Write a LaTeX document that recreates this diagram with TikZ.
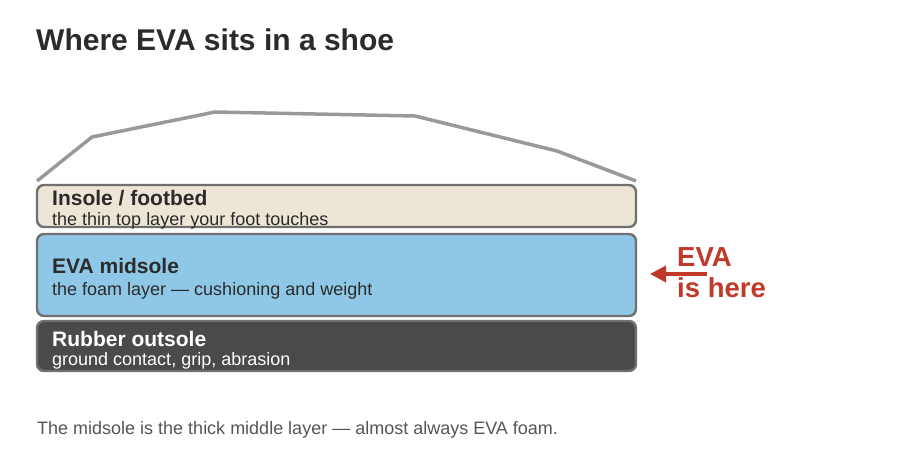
\documentclass[tikz,border=0pt]{standalone}
\usepackage{fontspec}
\setmainfont{Liberation Sans}
\definecolor{inktext}{RGB}{43,43,43}
\definecolor{edgegray}{RGB}{112,112,112}
\definecolor{uppergray}{RGB}{153,153,153}
\definecolor{insolefill}{RGB}{237,229,213}
\definecolor{evafill}{RGB}{142,200,230}
\definecolor{rubberfill}{RGB}{74,74,74}
\definecolor{evared}{RGB}{192,57,43}
\definecolor{notegray}{RGB}{85,85,85}
\usetikzlibrary{arrows.meta,positioning}
\tikzstyle{layer}=[draw=edgegray,line width=2.4pt,rounded corners=7pt,minimum width=599pt,inner sep=0pt]
\tikzstyle{layername}=[anchor=base west,inner sep=0pt,font=\fontsize{21}{24}\selectfont\bfseries]
\tikzstyle{layernote}=[anchor=base west,inner sep=0pt,font=\fontsize{18}{21}\selectfont]
\tikzstyle{pointer}=[draw=evared,line width=3.5pt,-{Triangle[length=16pt,width=16pt]}]

\begin{document}
\begin{tikzpicture}[x=1pt,y=-1pt]

            \useasboundingbox (0,0) rectangle (900,470);

            \node[anchor=base west,inner sep=0pt,text=inktext,font=\fontsize{30}{34}\selectfont\bfseries] (title) at (36,51) {Where EVA sits in a shoe};

            % shoe upper
            \draw[uppergray,line width=3.5pt] (37,181) -- (92,137) -- (215,112) -- (415,116) -- (557,151) -- (636,181);

            % the three layers
            \node[layer,fill=insolefill,minimum height=42pt] (insole) at (336.5,206) {};
            \node[layer,fill=evafill,minimum height=82pt] (midsole) at (336.5,275) {};
            \node[layer,fill=rubberfill,minimum height=50pt] (outsole) at (336.5,346) {};

            \node[layername,text=inktext] (insolename) at (52,206) {Insole / footbed};
            \node[layernote,text=inktext] (insolenote) at (52,226) {the thin top layer your foot touches};
            \node[layername,text=inktext] (midsolename) at (52,274) {EVA midsole};
            \node[layernote,text=inktext] (midsolenote) at (52,296) {the foam layer — cushioning and weight};
            \node[layername,text=white] (outsolename) at (52,347) {Rubber outsole};
            \node[layernote,text=white] (outsolenote) at (52,366) {ground contact, grip, abrasion};

            % callout
            \node[anchor=north west,inner sep=0pt,align=left,text=evared,font=\fontsize{27.5}{31}\selectfont\bfseries] (evahere) at (677,247) {EVA\\is here};
            \coordinate (tail) at (707,274);
            \coordinate (head) at (650,274);
            \path[pointer] (tail) -- (head);

            \node[anchor=base west,inner sep=0pt,text=notegray,font=\fontsize{18}{21}\selectfont] (footnote) at (37,435) {The midsole is the thick middle layer — almost always EVA foam.};

        \end{tikzpicture}
\end{document}
